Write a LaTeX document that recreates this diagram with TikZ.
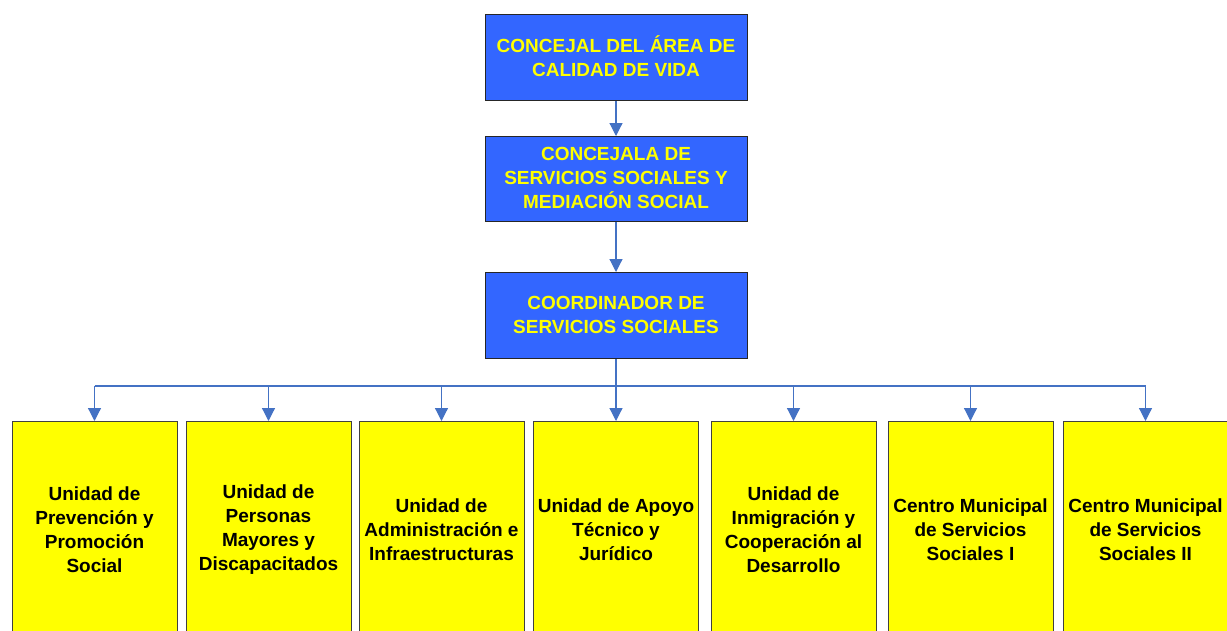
\documentclass[tikz,border=0pt]{standalone}
\usepackage{fontspec}
\setmainfont{Liberation Sans}
\usetikzlibrary{arrows.meta}
\definecolor{boxblue}{HTML}{3366FF}
\definecolor{lineblue}{HTML}{4472C4}
\definecolor{txtyellow}{HTML}{FFFF00}
\definecolor{unityellow}{HTML}{FFFF00}
\tikzset{
  topbox/.style={draw=black!85, line width=1pt, fill=boxblue, minimum width=262pt, anchor=north},
  toptext/.style={text=txtyellow, font=\bfseries\fontsize{19}{24}\selectfont, align=center, inner sep=0pt},
  unitbox/.style={draw=black!75, line width=1pt, fill=unityellow, minimum width=165pt, minimum height=220pt, anchor=north},
  unittext/.style={text=black, font=\bfseries\fontsize{19}{24}\selectfont, align=center, inner sep=0pt},
  conn/.style={draw=lineblue, line width=1.2pt, -{Triangle[width=13pt,length=13pt]}},
  bus/.style={draw=lineblue, line width=1.2pt}
}
\begin{document}
\begin{tikzpicture}[x=1pt,y=-1pt]
\useasboundingbox (0,0) rectangle (1227,630);
\clip (0,0) rectangle (1227,630);
% top boxes
\node[topbox, minimum height=86pt] (b1) at (616,14) {};
\node[toptext] (t1) at ([yshift=1pt]b1.center) {CONCEJAL DEL ÁREA DE\\CALIDAD DE VIDA};
\node[topbox, minimum height=85pt] (b2) at (616,136) {};
\node[toptext] (t2) at ([yshift=1pt]b2.center) {CONCEJALA DE\\SERVICIOS SOCIALES Y\\MEDIACIÓN SOCIAL};
\node[topbox, minimum height=86pt] (b3) at (616,272) {};
\node[toptext] (t3) at ([yshift=1pt]b3.center) {COORDINADOR DE\\SERVICIOS SOCIALES};
\draw[conn] (b1.south) -- (b2.north);
\draw[conn] (b2.south) -- (b3.north);
% bottom units
\node[unitbox] (u1) at (94.5,421) {};
\node[unitbox] (u2) at (268.5,421) {};
\node[unitbox] (u3) at (441.5,421) {};
\node[unitbox] (u4) at (616,421) {};
\node[unitbox] (u5) at (793.5,421) {};
\node[unitbox] (u6) at (970.5,421) {};
\node[unitbox] (u7) at (1145.5,421) {};
\node[unittext] (l1) at (94.5,530) {Unidad de\\Prevención y\\Promoción\\Social};
\node[unittext] (l2) at (268.5,530) {Unidad de\\Personas\\Mayores y\\Discapacitados};
\node[unittext] (l3) at (441.5,530) {Unidad de\\Administración e\\Infraestructuras};
\node[unittext] (l4) at (616,530) {Unidad de Apoyo\\Técnico y\\Jurídico};
\node[unittext] (l5) at (793.5,530) {Unidad de\\Inmigración y\\Cooperación al\\Desarrollo};
\node[unittext] (l6) at (970.5,530) {Centro Municipal\\de Servicios\\Sociales I};
\node[unittext] (l7) at (1145.5,530) {Centro Municipal\\de Servicios\\Sociales II};
% bus
\coordinate (busc) at (616,386);
\draw[bus] (b3.south) -- (busc);
\draw[bus] (u1.north |- busc) -- (u7.north |- busc);
\foreach \u in {u1,u2,u3,u4,u5,u6,u7}{
  \draw[conn] (\u.north |- busc) -- (\u.north);
}
\end{tikzpicture}
\end{document}
